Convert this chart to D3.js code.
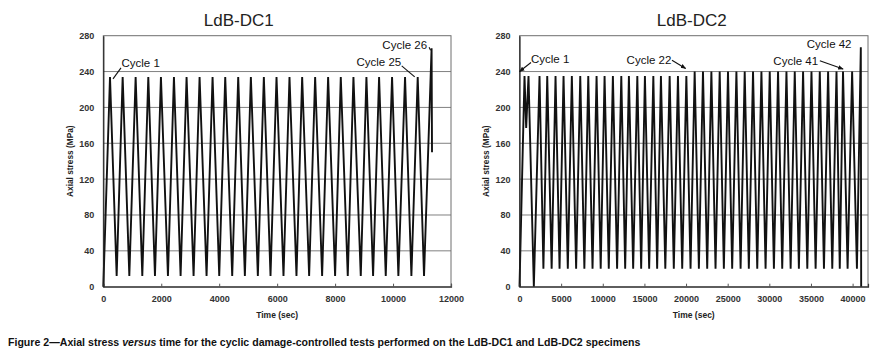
<!DOCTYPE html>
<html>
<head>
<meta charset="utf-8">
<script src="https://cdn.jsdelivr.net/npm/d3@7"></script>
<style>
  html, body { margin: 0; padding: 0; background: #ffffff; }
  svg { display: block; }
</style>
</head>
<body>
<svg id="chart" width="872" height="357"></svg>
<script>
// ---------------- DATA ----------------
const chartTitles = ["LdB-DC1", "LdB-DC2"];
const yTicks = [0, 40, 80, 120, 160, 200, 240, 280];
const dc1XTicks = [0, 2000, 4000, 6000, 8000, 10000, 12000];
const dc2XTicks = [0, 5000, 10000, 15000, 20000, 25000, 30000, 35000, 40000];
const xAxisTitle = "Time (sec)";
const yAxisTitle = "Axial stress (MPa)";

// LdB-DC1 : time (s) and axial stress (MPa)
const dc1Time = [0, 231, 461, 668, 898, 1116, 1346, 1553, 1783, 1989, 2231, 2438, 2668, 2874,
  3116, 3323, 3564, 3771, 4001, 4208, 4449, 4656, 4886, 5093, 5334, 5541, 5771, 5978, 6219,
  6426, 6667, 6863, 7104, 7311, 7552, 7759, 8000, 8196, 8437, 8633, 8886, 9081, 9311, 9518,
  9748, 9966, 10184, 10414, 10633, 10851, 11069, 11330, 11345];
const dc1Stress = [0, 234, 12, 234, 12, 234, 12, 234, 12, 234, 12, 234, 12, 234,
  12, 234, 12, 234, 12, 234, 12, 234, 12, 234, 12, 234, 12, 234, 12,
  234, 12, 234, 12, 234, 12, 234, 12, 234, 12, 234, 12, 234, 12, 234,
  12, 234, 12, 234, 12, 234, 12, 266, 150];

// LdB-DC2 : time (s) and axial stress (MPa)
const dc2Time = [0, 601, 802, 1082, 1722, 2404, 2870, 3330, 3860, 4327, 4810, 5289, 5800,
  6286, 6800, 7296, 7790, 8258, 8770, 9255, 9750, 10217, 10720, 11215, 11720, 12224, 12690,
  13138, 13650, 14148, 14610, 15061, 15570, 16071, 16530, 16984, 17510, 18030, 18530, 19028,
  19540, 20037, 20540, 21035, 21540, 22033, 22540, 23042, 23540, 24040, 24540, 25038, 25540,
  26047, 26550, 27045, 27540, 28043, 28550, 29052, 29550, 30050, 30550, 31048, 31550, 32057,
  32560, 33055, 33550, 34053, 34560, 35062, 35560, 36060, 36560, 37058, 37560, 38067, 38460,
  38849, 39400, 39943, 40520, 40988, 41030];
const dc2Stress = [0, 235, 177, 235, 0, 235, 20, 235, 20, 235, 20, 235, 20,
  235, 20, 235, 20, 235, 20, 235, 20, 235, 20, 235, 20, 235, 20,
  235, 20, 235, 20, 235, 20, 235, 20, 235, 20, 235, 20, 235,
  20, 235, 20, 240, 20, 240, 20, 240, 20, 240, 20, 240, 20,
  240, 20, 240, 20, 240, 20, 240, 20, 240, 20, 240, 20, 240,
  20, 240, 20, 240, 20, 240, 20, 240, 20, 240, 20, 240, 20,
  240, 20, 240, 20, 267, 0];

// annotations: label and the (time, stress) point they point at
const dc1Notes = [
  { label: "Cycle 1", t: 231, s: 234 },
  { label: "Cycle 25", t: 10851, s: 234 },
  { label: "Cycle 26", t: 11330, s: 266 }
];
const dc2Notes = [
  { label: "Cycle 1", t: 0, s: 240 },
  { label: "Cycle 22", t: 21035, s: 240 },
  { label: "Cycle 41", t: 39943, s: 240 },
  { label: "Cycle 42", t: 40988, s: 267 }
];

const captionParts = [
  { t: "Figure 2\u2014Axial stress ", italic: false },
  { t: "versus", italic: true },
  { t: " time for the cyclic damage-controlled tests performed on the LdB-DC1 and LdB-DC2 specimens", italic: false }
];

// ---------------- DRAW ----------------
const svg = d3.select("#chart");
const FONT = "'Liberation Sans', Arial, sans-serif";

svg.append("rect").attr("x", 0).attr("y", 0).attr("width", 872).attr("height", 357).attr("fill", "#fff");

svg.append("defs").append("marker")
  .attr("id", "arrow").attr("viewBox", "0 0 10 10").attr("refX", 9).attr("refY", 5)
  .attr("markerWidth", 5).attr("markerHeight", 5).attr("orient", "auto")
  .append("path").attr("d", "M0,1 L10,5 L0,9 Z").attr("fill", "#111");

function panel(cfg) {
  const g = svg.append("g");
  const x = d3.scaleLinear().domain(cfg.xDomain).range([cfg.left, cfg.right]);
  const y = d3.scaleLinear().domain([0, 280]).range([286.7, 35.7]);

  // gridlines
  g.append("g").selectAll("line").data(yTicks.filter(v => v > 0 && v < 280)).join("line")
    .attr("x1", cfg.left).attr("x2", cfg.right)
    .attr("y1", d => y(d)).attr("y2", d => y(d))
    .attr("stroke", "#808080").attr("stroke-width", 1);

  // plot frame
  g.append("rect").attr("x", cfg.left).attr("y", y(280))
    .attr("width", cfg.right - cfg.left).attr("height", y(0) - y(280))
    .attr("fill", "none").attr("stroke", "#6e6e6e").attr("stroke-width", 1);

  // data line
  const pts = cfg.time.map((t, i) => [t, cfg.stress[i]]);
  g.append("path").datum(pts)
    .attr("d", d3.line().x(d => x(d[0])).y(d => y(d[1])))
    .attr("fill", "none").attr("stroke", "#111").attr("stroke-width", 1.9)
    .attr("stroke-linejoin", "miter").attr("stroke-miterlimit", 20);

  // axes
  const xAxis = d3.axisBottom(x).tickValues(cfg.xTicks).tickSize(-3).tickPadding(9)
    .tickFormat(d3.format("d"));
  const gx = g.append("g").attr("transform", `translate(0,${y(0)})`).call(xAxis);
  gx.select(".domain").attr("stroke", "#333").attr("stroke-width", 1.2);
  gx.selectAll(".tick line").attr("stroke", "#555");
  gx.selectAll("text").attr("font-family", FONT).attr("font-size", 9).attr("font-weight", "bold").attr("fill", "#333");

  const yAxis = d3.axisLeft(y).tickValues(yTicks).tickSize(0).tickPadding(9);
  const gy = g.append("g").attr("transform", `translate(${cfg.left},0)`).call(yAxis);
  gy.select(".domain").attr("stroke", "#222").attr("stroke-width", 1.2);
  gy.selectAll("text").attr("font-family", FONT).attr("font-size", 9).attr("font-weight", "bold").attr("fill", "#333");

  // titles
  g.append("text").attr("x", cfg.titleX).attr("y", 26).attr("text-anchor", "middle")
    .attr("font-family", FONT).attr("font-size", 17).attr("fill", "#222").text(cfg.title);
  g.append("text").attr("x", (cfg.left + cfg.right) / 2).attr("y", 317.5).attr("text-anchor", "middle")
    .attr("font-family", FONT).attr("font-size", 8.5).attr("font-weight", "bold").attr("fill", "#222")
    .text(xAxisTitle);
  g.append("text").attr("transform", `translate(${cfg.yTitleX},${(y(0) + y(280)) / 2}) rotate(-90)`)
    .attr("text-anchor", "middle").attr("font-family", FONT).attr("font-size", 8.3)
    .attr("font-weight", "bold").attr("fill", "#222").text(yAxisTitle);

  // annotations
  cfg.notes.forEach((n, k) => {
    const o = cfg.noteLayout[k];
    const px = x(n.t) + o.tip[0], py = y(n.s) + o.tip[1];
    const sx = px + o.from[0], sy = py + o.from[1];
    if (o.from[0] !== 0 || o.from[1] !== 0) {
      const ln = g.append("line").attr("x1", sx).attr("y1", sy).attr("x2", px).attr("y2", py)
        .attr("stroke", "#111").attr("stroke-width", 1.1);
      if (o.arrow) ln.attr("marker-end", "url(#arrow)");
    }
    g.append("text").attr("x", px + o.text[0]).attr("y", py + o.text[1])
      .attr("text-anchor", o.anchor).attr("font-family", FONT).attr("font-size", 11.5)
      .attr("fill", "#111").text(n.label);
  });
}

panel({
  left: 103.3, right: 451, xDomain: [0, 12000], xTicks: dc1XTicks,
  time: dc1Time, stress: dc1Stress, title: chartTitles[0], titleX: 238.8, yTitleX: 73,
  notes: dc1Notes,
  noteLayout: [
    { tip: [3, 2], from: [8, -11], text: [8.5, -11.5], anchor: "start", arrow: false },
    { tip: [-3, 0], from: [-13, -11], text: [-13.5, -10.5], anchor: "end", arrow: false },
    { tip: [-1, 2], from: [-1.5, -3], text: [-3.5, -1], anchor: "end", arrow: false }
  ]
});

panel({
  left: 519.5, right: 868, xDomain: [0, 41850], xTicks: dc2XTicks,
  time: dc2Time, stress: dc2Stress, title: chartTitles[1], titleX: 691.7, yTitleX: 489,
  notes: dc2Notes,
  noteLayout: [
    { tip: [0, 0], from: [11.5, -9], text: [11.5, -8.5], anchor: "start", arrow: true },
    { tip: [-9, -3], from: [-13.7, -8.3], text: [-14.3, -4.8], anchor: "end", arrow: true },
    { tip: [-9, -2.5], from: [-23.3, -8.3], text: [-25, -4], anchor: "end", arrow: true },
    { tip: [0, 0], from: [0, 0], text: [-9.3, 1], anchor: "end", arrow: false }
  ]
});

// caption (condensed bold; horizontally scaled to the reference width)
const capG = svg.append("g");
const cap = capG.append("text").attr("x", 0).attr("y", 0)
  .attr("font-family", "'Liberation Sans Narrow', 'Liberation Sans', Arial, sans-serif")
  .attr("font-size", 11.5).attr("font-weight", "bold").attr("fill", "#111");
cap.selectAll("tspan").data(captionParts).join("tspan")
  .attr("font-style", d => d.italic ? "italic" : "normal").text(d => d.t);
const capW = cap.node().getComputedTextLength();
const sx = capW > 0 ? 633 / capW : 1;
capG.attr("transform", `translate(8,346) scale(${sx},1)`);
</script>
</body>
</html>
